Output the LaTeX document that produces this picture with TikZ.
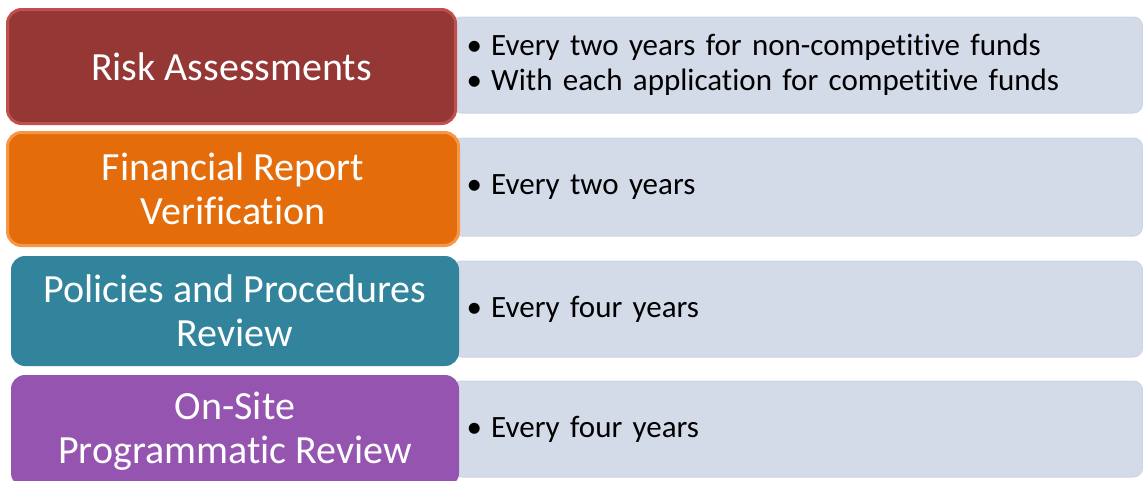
\documentclass[tikz,border=0pt]{standalone}
\usepackage{fontspec}
\setmainfont{Carlito}[RawFeature={-liga;-clig;-dlig}]
\definecolor{rfill}{HTML}{953735}
\definecolor{rline}{HTML}{C0504D}
\definecolor{ofill}{HTML}{E46C0A}
\definecolor{oline}{HTML}{F79646}
\definecolor{tfill}{HTML}{31849B}
\definecolor{pfill}{HTML}{9454B0}
\definecolor{gfill}{HTML}{D3DAE8}
\definecolor{gline}{HTML}{CDD4E3}
\tikzset{
  lbox/.style={rectangle, rounded corners=14pt, text=white, align=center,
    font=\fontsize{40}{44}\selectfont, inner sep=0pt},
  rbox/.style={rectangle, rounded corners=9pt, fill=gfill, draw=gline, line width=1pt,
    align=left, text width=662pt, inner xsep=14pt, inner ysep=0pt, anchor=west,
    font=\fontsize{31}{35}\selectfont, text=black},
}
\newcommand{\bul}{\textbullet\hspace{0.3em}}
\begin{document}
\begin{tikzpicture}[x=1pt,y=-1pt]
\useasboundingbox (0,0) rectangle (1143,480);
% right boxes (behind)
\node[rbox, minimum height=96pt] (r1) at (452,65) {\bul Every two years for non-competit\kern0pt ive funds\\\bul With each application for competit\kern0pt ive funds};
\node[rbox, minimum height=98pt] (r2) at (452,187) {\bul Every two years};
\node[rbox, minimum height=96pt] (r3) at (452,309) {\bul Every four years};
\node[rbox, minimum height=96pt] (r4) at (452,429) {\bul Every four years};
% left boxes
\node[lbox, fill=rfill, draw=rline, line width=3pt, minimum width=448pt, minimum height=114pt] (l1) at (231.5,66.5) {Risk Assessments};
\node[lbox, fill=ofill, draw=oline, line width=3pt, minimum width=451pt, minimum height=113pt] (l2) at (233,189) {F\kern0pt inancial Report\\Verif\kern0pt ication};
\node[lbox, fill=tfill, minimum width=448pt, minimum height=110pt] (l3) at (235,311) {Policies and Procedures\\Review};
\node[lbox, fill=pfill, minimum width=448pt, minimum height=112pt] (l4) at (235,431) {On-Site\\Programmatic Review};
\end{tikzpicture}
\end{document}
